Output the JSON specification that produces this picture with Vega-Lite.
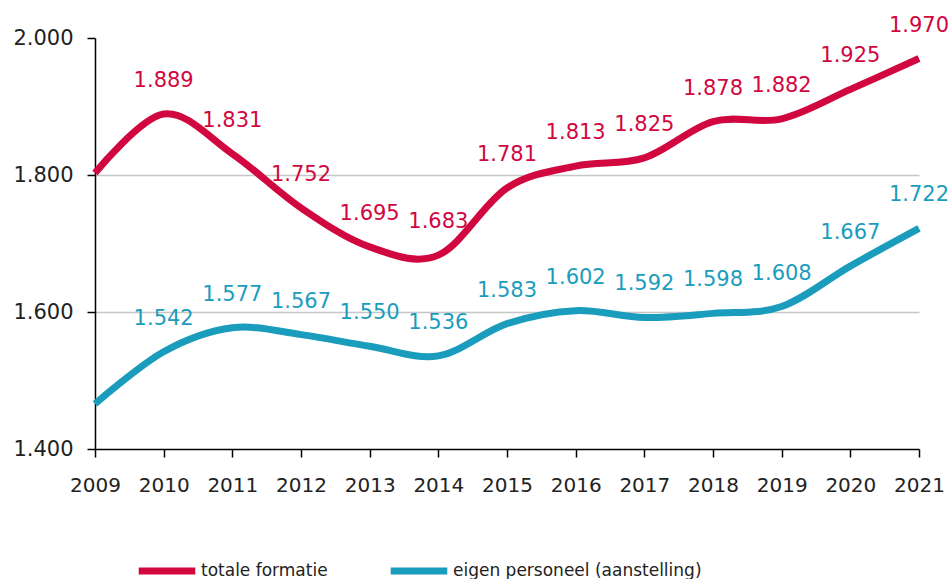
{
  "$schema": "https://vega.github.io/schema/vega-lite/v6.json",
  "autosize": {"type": "none"},
  "width": 824,
  "height": 411,
  "padding": {"left": 95, "top": 38, "right": 33, "bottom": 130},
  "background": "white",
  "config": {
    "locale": {"number": {"decimal": ",", "thousands": ".", "grouping": [3], "currency": ["€", ""]}},
    "font": "DejaVu Sans",
    "view": {"stroke": null}
  },
  "data": {
    "values": [
      {"year": "2009", "series": "totale formatie", "value": 1803},
      {"year": "2010", "series": "totale formatie", "value": 1889},
      {"year": "2011", "series": "totale formatie", "value": 1831},
      {"year": "2012", "series": "totale formatie", "value": 1752},
      {"year": "2013", "series": "totale formatie", "value": 1695},
      {"year": "2014", "series": "totale formatie", "value": 1683},
      {"year": "2015", "series": "totale formatie", "value": 1781},
      {"year": "2016", "series": "totale formatie", "value": 1813},
      {"year": "2017", "series": "totale formatie", "value": 1825},
      {"year": "2018", "series": "totale formatie", "value": 1878},
      {"year": "2019", "series": "totale formatie", "value": 1882},
      {"year": "2020", "series": "totale formatie", "value": 1925},
      {"year": "2021", "series": "totale formatie", "value": 1970},
      {"year": "2009", "series": "eigen personeel (aanstelling)", "value": 1466},
      {"year": "2010", "series": "eigen personeel (aanstelling)", "value": 1542},
      {"year": "2011", "series": "eigen personeel (aanstelling)", "value": 1577},
      {"year": "2012", "series": "eigen personeel (aanstelling)", "value": 1567},
      {"year": "2013", "series": "eigen personeel (aanstelling)", "value": 1550},
      {"year": "2014", "series": "eigen personeel (aanstelling)", "value": 1536},
      {"year": "2015", "series": "eigen personeel (aanstelling)", "value": 1583},
      {"year": "2016", "series": "eigen personeel (aanstelling)", "value": 1602},
      {"year": "2017", "series": "eigen personeel (aanstelling)", "value": 1592},
      {"year": "2018", "series": "eigen personeel (aanstelling)", "value": 1598},
      {"year": "2019", "series": "eigen personeel (aanstelling)", "value": 1608},
      {"year": "2020", "series": "eigen personeel (aanstelling)", "value": 1667},
      {"year": "2021", "series": "eigen personeel (aanstelling)", "value": 1722}
    ]
  },
  "encoding": {
    "x": {
      "field": "year", "type": "ordinal",
      "scale": {"type": "point", "padding": 0},
      "axis": {
        "title": null, "labelAngle": 0, "labelFontSize": 20, "labelColor": "#222",
        "domainColor": "#000", "domainWidth": 1.5, "tickColor": "#000", "tickWidth": 1.5,
        "tickSize": 8, "labelPadding": 18, "grid": false
      }
    },
    "y": {
      "field": "value", "type": "quantitative",
      "scale": {"domain": [1400, 2000], "nice": false, "zero": false},
      "axis": {
        "title": null, "values": [1400, 1600, 1800, 2000], "format": ",.0f",
        "labelFontSize": 21, "labelColor": "#222", "labelPadding": 14,
        "domainColor": "#000", "domainWidth": 1.5, "tickColor": "#000", "tickWidth": 1.5, "tickSize": 8,
        "grid": true, "gridWidth": 1.5,
        "gridColor": {"condition": {"test": "datum.value >= 2000 || datum.value <= 1400", "value": "transparent"}, "value": "#c6c6c6"}
      }
    },
    "color": {
      "field": "series", "type": "nominal",
      "scale": {"domain": ["totale formatie", "eigen personeel (aanstelling)"], "range": ["#d1073f", "#1a9dbd"]},
      "legend": {
        "title": null, "orient": "none", "direction": "horizontal",
        "legendX": 40, "legendY": 501,
        "symbolType": "stroke", "symbolSize": 3200, "symbolStrokeWidth": 7,
        "labelFontSize": 17, "labelOffset": 2, "labelLimit": 0, "columnPadding": 48, "labelColor": "#222"
      }
    }
  },
  "layer": [
    {"mark": {"type": "line", "interpolate": "cardinal", "strokeWidth": 7, "strokeCap": "butt"}},
    {
      "transform": [{"filter": "datum.year != '2009'"}],
      "mark": {"type": "text", "fontSize": 21, "dy": -33, "baseline": "middle"},
      "encoding": {"text": {"field": "value", "type": "quantitative", "format": ",.0f"}}
    }
  ]
}
